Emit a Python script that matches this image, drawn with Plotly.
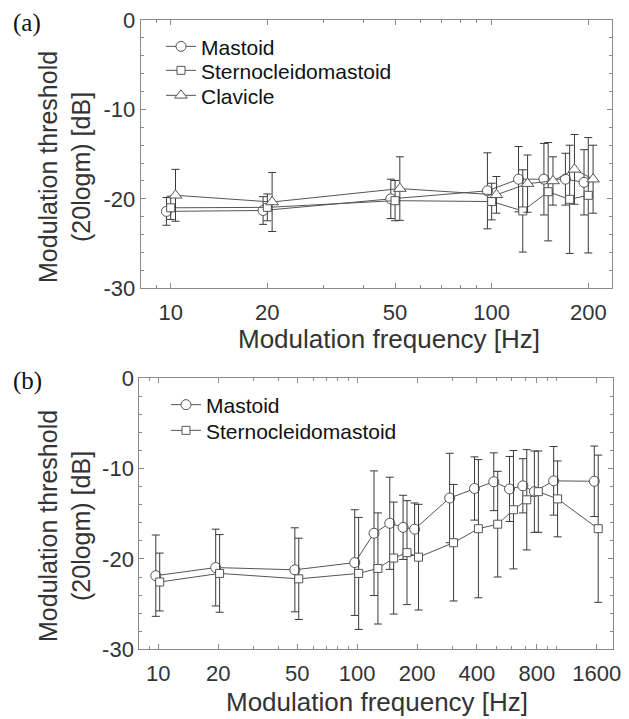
import plotly.graph_objects as go

# ---------------- data ----------------
freq_a = [10, 20, 50, 100, 125, 150, 175, 200]
mastoid_a = [-21.4, -21.3, -20.0, -19.1, -17.8, -17.8, -17.8, -18.15]
mastoid_a_err = [1.55, 1.55, 2.2, 4.25, 3.65, 4.0, 2.9, 3.65]
sterno_a = [-21.0, -20.95, -20.2, -20.3, -21.35, -19.2, -20.05, -19.6]
sterno_a_err = [1.3, 1.5, 2.25, 2.05, 4.6, 5.5, 6.05, 6.45]
clav_a = [-19.6, -20.35, -18.85, -19.55, -18.3, -18.0, -16.7, -17.8]
clav_a_err = [2.9, 3.3, 3.55, 2.05, 3.2, 2.7, 3.9, 3.8]

freq_b = [10, 20, 50, 100, 125, 150, 175, 200, 300, 400, 500, 600, 700, 800, 1000, 1600]
mastoid_b = [-21.85, -20.95, -21.2, -20.4, -17.15, -16.05, -16.5, -16.7, -13.25,
             -12.2, -11.45, -12.25, -11.9, -12.55, -11.35, -11.4]
mastoid_b_err = [4.5, 4.25, 4.65, 5.85, 6.9, 5.1, 3.55, 2.9, 4.95,
                 3.5, 3.2, 3.6, 3.0, 4.5, 3.8, 3.9]
sterno_b = [-22.55, -21.6, -22.2, -21.6, -21.05, -19.9, -19.3, -19.8, -18.2,
            -16.65, -16.15, -14.55, -13.45, -12.55, -13.35, -16.65]
sterno_b_err = [3.2, 4.3, 4.5, 6.2, 6.15, 6.2, 5.75, 5.85, 6.45,
                7.65, 5.85, 6.55, 5.55, 4.5, 4.2, 8.15]

xticks_a = [10, 20, 50, 100, 200]
xticks_b = [10, 20, 50, 100, 200, 400, 800, 1600]
yticks = [0, -10, -20, -30]

# ---------------- styling ----------------
W, H = 629, 719
FONT = "Liberation Sans, Arial, sans-serif"
SERIF = "Liberation Serif, Times New Roman, serif"
LINE_C = "#555555"
ERR_C = "#3a3a3a"
AX_C = "#8a8a8a"
TXT_C = "#333333"
LEG_FS = 21


def px(x):
    return x / W


def py(y):
    return 1 - y / H


def shift(vals, factor):
    return [v * factor for v in vals]


fig = go.Figure()


def add_series(x, y, err, name, symbol, size, xa, ya, legend):
    fig.add_trace(go.Scatter(
        x=x, y=y, name=name, mode="lines+markers",
        line=dict(color=LINE_C, width=1),
        marker=dict(symbol=symbol, size=size, color="white",
                    line=dict(color=LINE_C, width=1)),
        error_y=dict(type="data", array=err, color=ERR_C, thickness=1, width=4),
        xaxis=xa, yaxis=ya, legend=legend,
    ))


add_series(shift(freq_a, 0.970), mastoid_a, mastoid_a_err, "Mastoid", "circle", 10, "x", "y", "legend")
add_series(freq_a, sterno_a, sterno_a_err, "Sternocleidomastoid", "square", 8, "x", "y", "legend2")
add_series(shift(freq_a, 1.035), clav_a, clav_a_err, "Clavicle", "triangle-up", 11, "x", "y", "legend3")

add_series(shift(freq_b, 0.972), mastoid_b, mastoid_b_err, "Mastoid", "circle", 10, "x2", "y2", "legend4")
add_series(shift(freq_b, 1.017), sterno_b, sterno_b_err, "Sternocleidomastoid", "square", 8, "x2", "y2", "legend5")

common_axis = dict(
    showline=True, linecolor=AX_C, linewidth=1, mirror="ticks",
    ticks="inside", ticklen=5, tickcolor=AX_C, tickwidth=1,
    showgrid=False, zeroline=False, automargin=False,
    tickfont=dict(family=FONT, size=22, color=TXT_C),
)
minor_log = dict(ticks="inside", ticklen=3, tickcolor=AX_C, dtick="D1", showgrid=False)
minor_lin = dict(ticks="inside", ticklen=3, tickcolor=AX_C, dtick=2, showgrid=False)


def leg(x, y):
    return dict(x=px(x), y=py(y), xanchor="left", yanchor="middle",
                bgcolor="rgba(0,0,0,0)", borderwidth=0,
                font=dict(family=FONT, size=LEG_FS, color="#111111"))


fig.update_layout(
    width=W, height=H,
    margin=dict(l=0, r=0, t=0, b=0, autoexpand=False),
    paper_bgcolor="white", plot_bgcolor="white",
    font=dict(family=FONT, color=TXT_C),
    xaxis=dict(type="log", range=[0.9065, 2.374], domain=[px(140.7), px(611.7)], anchor="y",
               tickmode="array", tickvals=xticks_a, ticktext=[str(v) for v in xticks_a],
               minor=minor_log, ticklabelstandoff=4, **common_axis),
    yaxis=dict(range=[-30, 0], domain=[py(288.3), py(20)], anchor="x",
               tickmode="array", tickvals=yticks, ticktext=[str(v) for v in yticks],
               minor=minor_lin, **common_axis),
    xaxis2=dict(type="log", range=[0.9047, 3.2844], domain=[px(139.3), px(612.7)], anchor="y2",
                tickmode="array", tickvals=xticks_b, ticktext=[str(v) for v in xticks_b],
                minor=minor_log, ticklabelstandoff=4, **common_axis),
    yaxis2=dict(range=[-30, 0], domain=[py(649.3), py(378.3)], anchor="x2",
                tickmode="array", tickvals=yticks, ticktext=[str(v) for v in yticks],
                minor=minor_lin, **common_axis),
    legend=leg(161, 46.7),
    legend2=leg(161, 70.7),
    legend3=leg(161, 95.7),
    legend4=leg(166, 405),
    legend5=leg(166, 430.7),
    showlegend=True,
)

ann = []


def add_text(text, x, y, size, family=FONT, color=TXT_C, angle=0):
    ann.append(dict(text=text, x=px(x), y=py(y), xref="paper", yref="paper",
                    xanchor="center", yanchor="middle", showarrow=False, textangle=angle,
                    font=dict(family=family, size=size, color=color)))


add_text("(a)", 27, 23, 25, SERIF, "#111111")
add_text("(b)", 27, 381, 25, SERIF, "#111111")
for yc in (167, 526):
    add_text("Modulation threshold<br>(20logm) [dB]", 64, yc, 25, angle=-90)
add_text("Modulation frequency [Hz]", 389, 339, 26)
add_text("Modulation frequency [Hz]", 377, 702, 26)
fig.update_layout(annotations=ann)

fig.write_html("out.html", config={"displayModeBar": False},
               post_script="document.body.style.margin='0';document.body.style.overflow='hidden';")
